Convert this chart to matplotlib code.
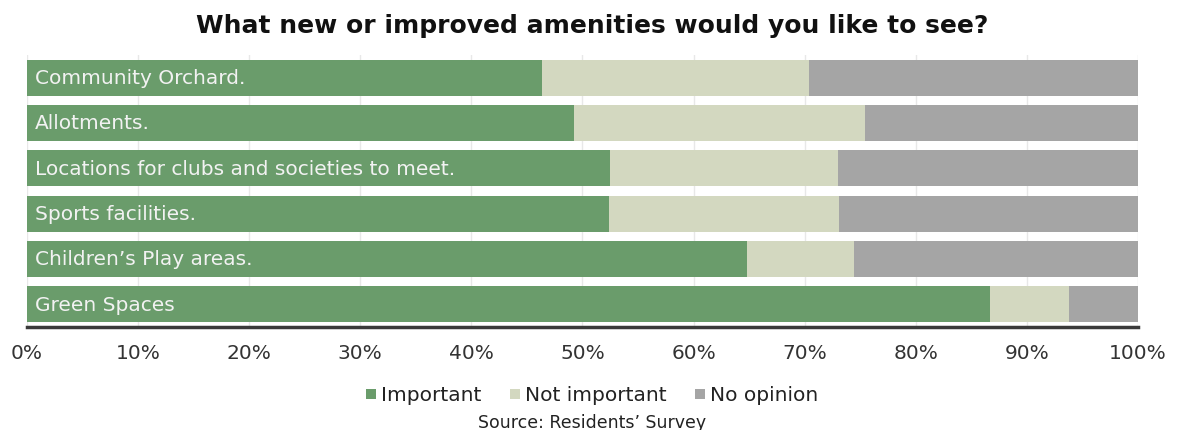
import matplotlib
matplotlib.use("Agg")
import matplotlib.pyplot as plt
import numpy as np

categories = [
    "Community Orchard.",
    "Allotments.",
    "Locations for clubs and societies to meet.",
    "Sports facilities.",
    "Children\u2019s Play areas.",
    "Green Spaces",
]
important = [46.4, 49.2, 52.5, 52.4, 64.8, 86.7]
not_important = [24.0, 26.2, 20.5, 20.7, 9.6, 7.1]
no_opinion = [29.6, 24.6, 27.0, 26.9, 25.6, 6.2]
series_names = ["Important", "Not important", "No opinion"]
colors = ["#6a9c6b", "#d3d8c0", "#a5a5a5"]
xticks = list(range(0, 101, 10))

plt.rcParams["font.family"] = "sans-serif"
plt.rcParams["font.sans-serif"] = ["DejaVu Sans"]

fig = plt.figure(figsize=(11.84, 4.30), dpi=100)
ax = fig.add_axes([0.0228, 0.2395, 0.9383, 0.6325])

y = np.arange(len(categories))
left = np.zeros(len(categories))
for vals, name, col in zip([important, not_important, no_opinion], series_names, colors):
    ax.barh(y, vals, left=left, height=0.8, color=col, label=name, zorder=2)
    left += np.array(vals)

for yi, cat in zip(y, categories):
    ax.text(0.7, yi + 0.02, cat, color="#f2f2f2", fontsize=14.5, va="center",
            ha="left", zorder=3)

ax.set_xlim(0, 100)
ax.set_ylim(len(categories) - 0.5, -0.5)
ax.set_xticks(xticks)
ax.set_xticklabels([f"{t}%" for t in xticks], fontsize=14.5, color="#333333")
ax.tick_params(axis="x", length=0, pad=12)
ax.set_yticks([])
ax.grid(axis="x", color="#e8e8e8", linewidth=1, zorder=0)
for s in ["top", "left", "right"]:
    ax.spines[s].set_visible(False)
ax.spines["bottom"].set_color("#3a3a3a")
ax.spines["bottom"].set_linewidth(2.5)

fig.text(0.5, 0.94, "What new or improved amenities would you like to see?",
         ha="center", va="center", fontsize=18, fontweight="bold", color="#111111")

leg = fig.legend(loc="center", bbox_to_anchor=(0.5, 0.08), ncol=3, frameon=False,
                 fontsize=14.5, handlelength=0.5, handleheight=0.4, handletextpad=0.25,
                 columnspacing=1.4, borderpad=0)
for t in leg.get_texts():
    t.set_color("#222222")
fig.text(0.5, 0.016, "Source: Residents\u2019 Survey", ha="center", va="center",
         fontsize=12.5, color="#222222")

fig.savefig("out.png", dpi=100)
